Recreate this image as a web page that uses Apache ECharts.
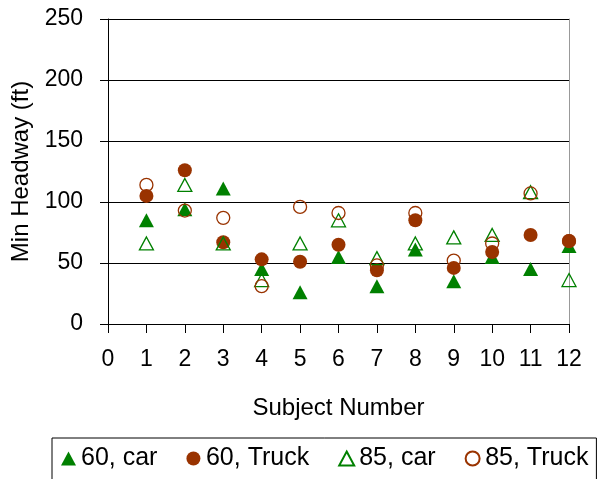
<!DOCTYPE html>
<html>
<head>
<meta charset="utf-8">
<script src="https://cdn.jsdelivr.net/npm/echarts@6/dist/echarts.min.js"></script>
<style>
  html, body { margin: 0; padding: 0; background: #fff; }
  #chartBox { width: 602px; height: 479px; }
</style>
</head>
<body>
<div id="chartBox"></div>
<script>
// subject numbers and min headway values (ft)
const subjects = [1, 2, 3, 4, 5, 6, 7, 8, 9, 10, 11, 12];
const car60 = [85, 94, 111, 45, 26, 55, 31, 61, 35, 55, 45, 64];
const truck60 = [105, 126, 67, 53, 51, 65, 44, 85, 46, 59, 73, 68];
const car85 = [66, 114, 66, 36, 66, 85, 54, 66, 71, 73, 108, 36];
const truck85 = [114, 93, 87, 31, 96, 91, 48, 91, 52, 66, 107, 68];

const seriesNames = ['60, car', '60, Truck', '85, car', '85, Truck'];
const yTicks = [0, 250, 50];

const font = "'Liberation Sans', Arial, sans-serif";
const green = '#008000';
const brown = '#993300';

function pairs(vals) {
  return subjects.map((s, i) => [s, vals[i]]);
}

const chart = echarts.init(document.getElementById('chartBox'));

const option = {
  animation: false,
  grid: { left: 108, right: 33, top: 19, bottom: 155 },
  xAxis: {
    type: 'value',
    min: 0,
    max: 12,
    interval: 1,
    name: 'Subject Number',
    nameLocation: 'middle',
    nameGap: 72,
    nameTextStyle: { fontFamily: font, fontSize: 24, color: '#000' },
    axisLine: { show: true, onZero: false, lineStyle: { color: '#000' } },
    axisTick: { show: true, length: 9, lineStyle: { color: '#000' } },
    axisLabel: { fontFamily: font, fontSize: 23, color: '#000', margin: 24 },
    splitLine: { show: false }
  },
  yAxis: [
    {
      type: 'value',
      min: yTicks[0],
      max: yTicks[1],
      interval: yTicks[2],
      name: 'Min Headway (ft)',
      nameLocation: 'middle',
      nameGap: 75,
      nameTextStyle: { fontFamily: font, fontSize: 24, color: '#000' },
      axisLine: { show: true, lineStyle: { color: '#000' } },
      axisTick: { show: true, length: 8, lineStyle: { color: '#000' } },
      axisLabel: { fontFamily: font, fontSize: 23, color: '#000', margin: 25 },
      splitLine: { show: true, lineStyle: { color: '#000', width: 1 } }
    },
    {
      type: 'value',
      position: 'right',
      min: yTicks[0],
      max: yTicks[1],
      interval: yTicks[2],
      axisLine: { show: true, lineStyle: { color: '#999' } },
      axisTick: { show: false },
      axisLabel: { show: false },
      splitLine: { show: false }
    }
  ],
  legend: {
    data: seriesNames,
    left: 52,
    top: 438,
    padding: [8, 8, 14, 9],
    itemGap: 29,
    itemWidth: 15,
    itemHeight: 14,
    borderColor: '#000',
    borderWidth: 1,
    textStyle: { fontFamily: font, fontSize: 25, color: '#000' }
  },
  series: [
    {
      name: seriesNames[0],
      type: 'scatter',
      symbol: 'triangle',
      symbolSize: [15, 14],
      itemStyle: { color: green, opacity: 1 },
      data: pairs(car60)
    },
    {
      name: seriesNames[1],
      type: 'scatter',
      symbol: 'circle',
      symbolSize: 14,
      itemStyle: { color: brown, opacity: 1 },
      data: pairs(truck60)
    },
    {
      name: seriesNames[2],
      type: 'scatter',
      symbol: 'triangle',
      symbolSize: [14, 13],
      itemStyle: { color: 'rgba(255,255,255,0)', borderColor: green, borderWidth: 1.3, opacity: 1 },
      data: pairs(car85)
    },
    {
      name: seriesNames[3],
      type: 'scatter',
      symbol: 'circle',
      symbolSize: 13,
      itemStyle: { color: 'rgba(255,255,255,0)', borderColor: brown, borderWidth: 1.3, opacity: 1 },
      data: pairs(truck85)
    }
  ]
};

chart.setOption(option);
</script>
</body>
</html>
